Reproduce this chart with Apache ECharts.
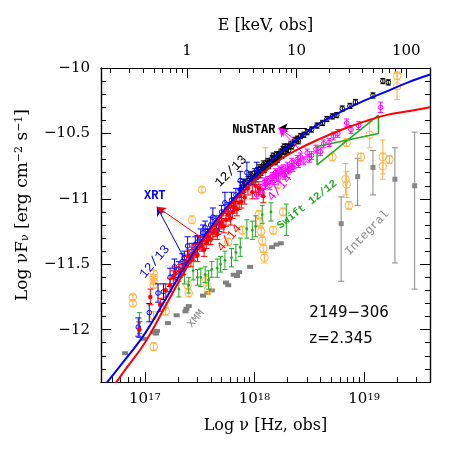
<!DOCTYPE html>
<html>
<head>
<meta charset="utf-8">
<script src="https://cdn.jsdelivr.net/npm/echarts@6.0.0/dist/echarts.min.js"></script>
<style>
  html, body { margin: 0; padding: 0; background: #fff; }
  #chart { width: 469px; height: 469px; }
</style>
</head>
<body>
<div id="chart"></div>
<script>
// log10 of 1 keV in Hz, used for the top energy axis
const LOG_KEV_HZ = Math.log10(2.418e17);

// axis ranges (log nu, log nuFnu)
const nuRange = [16.6, 19.6];
const fluxRange = [-12.4, -10];

// tick values
const nuMajor = [17, 18, 19];
const keVMajor = [1, 10, 100];
const fluxMajor = [-12, -11.5, -11, -10.5, -10];

// NuSTAR 12/13 (black)  [log nu, log nuFnu, err]
const nustar1213 = [
  [17.88,-10.93,0.03],[17.91,-10.88,0.03],[17.94,-10.86,0.03],[17.96,-10.83,0.03],[17.98,-10.85,0.03],
  [18.00,-10.80,0.03],[18.01,-10.84,0.03],[18.02,-10.82,0.03],[18.03,-10.79,0.03],[18.04,-10.77,0.03],
  [18.05,-10.81,0.03],[18.06,-10.79,0.03],[18.07,-10.76,0.02],[18.08,-10.74,0.03],[18.09,-10.78,0.02],
  [18.10,-10.76,0.02],[18.11,-10.73,0.02],[18.12,-10.71,0.02],[18.13,-10.75,0.02],[18.14,-10.73,0.02],
  [18.15,-10.72,0.02],[18.16,-10.69,0.02],[18.17,-10.67,0.02],[18.18,-10.70,0.02],[18.19,-10.72,0.02],
  [18.20,-10.66,0.02],[18.21,-10.70,0.02],[18.22,-10.68,0.02],[18.23,-10.66,0.02],[18.24,-10.64,0.02],
  [18.25,-10.67,0.02],[18.26,-10.62,0.02],[18.27,-10.60,0.02],[18.28,-10.64,0.02],[18.29,-10.62,0.02],
  [18.30,-10.60,0.02],[18.31,-10.63,0.02],[18.33,-10.58,0.02],[18.34,-10.60,0.02],[18.36,-10.57,0.02],
  [18.37,-10.55,0.02],[18.39,-10.54,0.02],[18.40,-10.56,0.02],[18.42,-10.52,0.02],[18.45,-10.51,0.02],
  [18.48,-10.49,0.02],[18.52,-10.47,0.02],[18.57,-10.44,0.02],[18.62,-10.42,0.02],[18.66,-10.39,0.02],
  [18.71,-10.37,0.02],[18.75,-10.36,0.02],[18.80,-10.31,0.02],[18.87,-10.29,0.02],[18.92,-10.26,0.02],
  [19.08,-10.21,0.02],[19.17,-10.10,0.02],[19.22,-10.11,0.02]
];

// NuSTAR 4/14 (magenta)
const nustar414 = [
  [18.02,-10.97,0.03],[18.05,-10.92,0.03],[18.07,-10.95,0.03],[18.09,-10.87,0.03],[18.10,-10.89,0.03],
  [18.12,-10.86,0.03],[18.14,-10.90,0.03],[18.15,-10.85,0.03],[18.16,-10.83,0.03],[18.18,-10.86,0.03],
  [18.19,-10.80,0.03],[18.20,-10.81,0.03],[18.22,-10.84,0.03],[18.23,-10.78,0.03],[18.24,-10.79,0.03],
  [18.26,-10.77,0.03],[18.27,-10.82,0.03],[18.28,-10.80,0.03],[18.30,-10.75,0.03],[18.31,-10.78,0.03],
  [18.32,-10.77,0.03],[18.34,-10.72,0.03],[18.35,-10.76,0.03],[18.36,-10.74,0.03],[18.39,-10.70,0.03],
  [18.40,-10.73,0.03],[18.42,-10.68,0.03],[18.45,-10.71,0.03],[18.48,-10.65,0.03],[18.50,-10.69,0.03],
  [18.52,-10.67,0.03],[18.56,-10.62,0.03],[18.60,-10.64,0.03],[18.63,-10.58,0.03],[18.68,-10.57,0.03],
  [18.72,-10.52,0.03],[18.76,-10.50,0.03],[18.84,-10.42,0.03],[18.88,-10.47,0.03],[18.95,-10.44,0.03],
  [19.15,-10.30,0.04]
];

// Swift XRT 12/13 (blue)
const xrt1213 = [
  [16.94,-11.98,0.07],[17.04,-11.87,0.07],[17.12,-11.72,0.07],[17.17,-11.71,0.06],[17.23,-11.60,0.07],
  [17.27,-11.52,0.06],[17.31,-11.54,0.06],[17.34,-11.48,0.06],[17.36,-11.45,0.05],[17.39,-11.36,0.07],
  [17.43,-11.40,0.06],[17.46,-11.35,0.06],[17.48,-11.33,0.05],[17.51,-11.30,0.07],[17.53,-11.26,0.06],
  [17.55,-11.22,0.05],[17.57,-11.29,0.06],[17.60,-11.20,0.06],[17.62,-11.14,0.07],[17.65,-11.18,0.05],
  [17.67,-11.21,0.06],[17.70,-11.10,0.05],[17.73,-11.03,0.08],[17.76,-11.08,0.05],[17.79,-11.01,0.06],
  [17.81,-11.04,0.05],[17.83,-10.97,0.05],[17.87,-10.93,0.06],[17.87,-10.86,0.07],[17.90,-10.90,0.05],
  [17.93,-10.80,0.08],[17.97,-10.84,0.05],[18.02,-10.78,0.06]
];

// Swift XRT 4/14 (red)
const xrt414 = [
  [16.95,-12.00,0.06],[17.05,-11.75,0.06],[17.14,-11.81,0.05],[17.19,-11.70,0.05],[17.23,-11.66,0.05],
  [17.26,-11.60,0.05],[17.28,-11.57,0.05],[17.32,-11.55,0.05],[17.35,-11.53,0.05],[17.38,-11.48,0.04],
  [17.40,-11.44,0.05],[17.42,-11.47,0.05],[17.44,-11.42,0.05],[17.46,-11.40,0.05],[17.48,-11.43,0.05],
  [17.50,-11.34,0.05],[17.52,-11.36,0.04],[17.54,-11.39,0.05],[17.56,-11.33,0.05],[17.58,-11.30,0.05],
  [17.60,-11.31,0.04],[17.62,-11.26,0.05],[17.64,-11.24,0.05],[17.66,-11.27,0.04],[17.68,-11.20,0.05],
  [17.70,-11.18,0.05],[17.72,-11.21,0.05],[17.74,-11.16,0.05],[17.76,-11.12,0.05],[17.78,-11.15,0.05],
  [17.80,-11.10,0.05],[17.82,-11.06,0.05],[17.84,-11.08,0.05],[17.86,-11.03,0.05],[17.88,-11.02,0.05],
  [17.91,-10.99,0.05],[17.94,-10.92,0.05],[17.98,-10.95,0.05],[18.01,-10.90,0.05],[18.04,-10.92,0.05],
  [18.08,-10.98,0.05]
];

// Swift XRT 12/12 (green)
const swift1212 = [
  [16.95,-11.95,0.08],[17.31,-11.69,0.06],[17.36,-11.58,0.07],[17.40,-11.66,0.06],[17.44,-11.55,0.07],
  [17.48,-11.60,0.06],[17.51,-11.60,0.07],[17.55,-11.58,0.06],[17.58,-11.62,0.07],[17.61,-11.54,0.06],
  [17.66,-11.53,0.07],[17.69,-11.50,0.06],[17.73,-11.47,0.07],[17.79,-11.45,0.07],[17.83,-11.41,0.06],
  [17.87,-11.37,0.07],[17.93,-11.23,0.07],[17.98,-11.24,0.07],[18.01,-11.21,0.08],[18.07,-11.12,0.07],
  [18.15,-11.10,0.07],[18.29,-11.16,0.12]
];

// BAT bowtie (green), corners [log nu, log nuFnu]
const bowtie = [[18.57,-10.60],[19.13,-10.50],[19.13,-10.36],[18.57,-10.74],[18.57,-10.60]];

// archival data (orange open circles)
const archival = [
  [16.89,-11.75,0.02],[16.89,-11.80,0.02],[17.08,-11.57,0.02],[17.08,-11.60,0.02],[17.08,-11.63,0.02],
  [17.08,-11.66,0.02],[17.08,-11.89,0.03],[17.08,-12.13,0.03],[17.17,-11.82,0.03],[17.19,-11.86,0.03],
  [17.39,-11.66,0.03],[17.40,-11.72,0.03],[17.43,-11.16,0.03],[17.52,-10.93,0.02],[17.56,-11.62,0.04],
  [17.58,-11.69,0.04],[17.76,-11.33,0.03],[17.89,-11.24,0.03],[18.04,-11.12,0.03],[18.05,-11.18,0.03],
  [18.06,-11.25,0.03],[18.07,-11.32,0.03],[18.08,-11.38,0.03],[18.09,-11.45,0.04],[18.10,-10.73,0.12],
  [18.17,-11.24,0.03],[18.21,-10.89,0.03],[18.26,-11.10,0.03],[18.71,-10.68,0.03],[18.83,-10.85,0.12],
  [18.84,-10.89,0.10],[18.86,-11.05,0.03],[18.84,-10.57,0.03],[18.97,-10.68,0.03],[19.05,-10.51,0.10],
  [19.17,-10.68,0.13],[19.17,-10.75,0.10],[19.23,-10.70,0.03],[19.30,-10.06,0.03],[19.30,-10.14,0.10]
];

// XMM (grey squares)
const xmm = [
  [16.82,-12.18],[16.99,-12.07],[17.08,-12.02],[17.10,-12.03],[17.11,-12.01],[17.21,-11.95],
  [17.29,-11.89],[17.37,-11.86],[17.38,-11.84],[17.40,-11.82],[17.53,-11.74],[17.57,-11.72],
  [17.61,-11.70],[17.74,-11.64],[17.76,-11.66],[17.81,-11.58],[17.84,-11.59],[17.86,-11.56],
  [17.96,-11.52],[18.16,-11.37],[18.20,-11.35],[18.24,-11.34]
];

// INTEGRAL (grey, asymmetric errors)  [log nu, log nuFnu, low, high]
const integral = [
  [18.79,-11.19,-11.63,-10.985],[18.94,-10.83,-11.05,-10.69],[19.08,-10.76,-10.97,-10.63],
  [19.28,-10.85,-11.49,-10.61],[19.46,-10.90,-11.69,-10.49]
];

// models
const modelBlue = [
  [16.60,-12.46],[16.80,-12.25],[17.00,-12.03],[17.20,-11.75],[17.40,-11.47],[17.60,-11.22],
  [17.80,-11.01],[18.00,-10.83],[18.20,-10.67],[18.40,-10.54],[18.60,-10.42],[18.80,-10.33],
  [19.00,-10.25],[19.20,-10.18],[19.40,-10.11],[19.60,-10.05]
];
const modelRed = [
  [16.70,-12.45],[16.80,-12.33],[17.00,-12.10],[17.20,-11.80],[17.40,-11.50],[17.60,-11.24],
  [17.80,-11.03],[18.00,-10.86],[18.20,-10.72],[18.40,-10.62],[18.60,-10.54],[18.80,-10.47],
  [19.00,-10.41],[19.20,-10.36],[19.40,-10.33],[19.60,-10.30]
];

// text annotations, positions in data coordinates
const labels = [
  { text: 'XRT', at: [17.09, -10.977], rot: 0, color: '#0000ff', font: 'bold 12px "Liberation Mono"' },
  { text: '12/13', at: [17.09, -11.48], rot: 50, color: '#0000ff', font: '13px "Liberation Mono"' },
  { text: '4/14', at: [17.77, -11.30], rot: 50, color: '#ff0000', font: '13px "Liberation Mono"' },
  { text: '12/13', at: [17.785, -10.79], rot: 45, color: '#000000', font: '13px "Liberation Mono"' },
  { text: '4/14', at: [18.23, -10.915], rot: 50, color: '#ff00ff', font: '13px "Liberation Mono"' },
  { text: 'Swift 12/12', at: [18.48, -11.045], rot: 38, color: '#22aa22', font: 'bold 11px "Liberation Mono"' },
  { text: 'Integral', at: [19.025, -11.26], rot: 46, color: '#888888', font: '12px "Liberation Mono"' },
  { text: 'XMM', at: [17.465, -11.915], rot: 50, color: '#888888', font: '11px "Liberation Mono"' },
  { text: 'NuSTAR', at: [18.19, -10.473], rot: 0, color: '#000000', font: 'bold 12px "Liberation Mono"', align: 'right' },
  { text: '2149\u2212306', at: [18.50, -11.87], rot: 0, color: '#000000', font: '15px "DejaVu Sans"', align: 'left' },
  { text: 'z=2.345', at: [18.50, -12.07], rot: 0, color: '#000000', font: '15px "DejaVu Sans"', align: 'left' }
];

// arrows from data to the labels [from, to, colour]
const arrows = [
  [[17.356, -11.450], [17.11, -11.061], '#0000ff'],
  [[17.520, -11.298], [17.11, -11.061], '#ff0000'],
  [[18.477, -10.458], [18.221, -10.458], '#000000'],
  [[18.431, -10.641], [18.221, -10.458], '#ff00ff'],
  [[18.376, -10.550], [18.221, -10.458], '#ff00ff']
];

// minor ticks
const nuMinor = [];
for (let d = 16; d <= 19; d++) for (let k = 2; k <= 9; k++) {
  const v = d + Math.log10(k);
  if (v > nuRange[0] && v < nuRange[1]) nuMinor.push(v);
}
const keVMinor = [];
for (let d = -1; d <= 2; d++) for (let k = 2; k <= 9; k++) {
  const v = d + Math.log10(k) + LOG_KEV_HZ;
  if (v > nuRange[0] && v < nuRange[1]) keVMinor.push(v);
}
const fluxMinor = [];
for (let i = -124; i <= -100; i++) if (i % 5 !== 0) fluxMinor.push(i / 10);

function toBars(arr) {
  return arr.map(d => d.length > 3 ? d : [d[0], d[1], d[1] - d[2], d[1] + d[2]]);
}

function errSeries(name, arr, color, marker, z) {
  const data = toBars(arr);
  return {
    type: 'custom', name: name, data: data, z: z || 3, clip: true,
    encode: { x: 0, y: 1 },
    renderItem: function (params, api) {
      const p = api.coord([api.value(0), api.value(1)]);
      const lo = api.coord([api.value(0), api.value(2)]);
      const hi = api.coord([api.value(0), api.value(3)]);
      const c = marker.cap;
      const ls = { stroke: color, lineWidth: marker.lw || 1 };
      const kids = [];
      if (c > 0) {
        kids.push(
          { type: 'line', shape: { x1: p[0], y1: lo[1], x2: p[0], y2: hi[1] }, style: ls },
          { type: 'line', shape: { x1: p[0] - c, y1: lo[1], x2: p[0] + c, y2: lo[1] }, style: ls },
          { type: 'line', shape: { x1: p[0] - c, y1: hi[1], x2: p[0] + c, y2: hi[1] }, style: ls }
        );
      }
      if (marker.type === 'rect') {
        kids.push({ type: 'rect', shape: { x: p[0] - marker.w / 2, y: p[1] - marker.h / 2, width: marker.w, height: marker.h }, style: { fill: color } });
      } else {
        kids.push({ type: 'circle', shape: { cx: p[0], cy: p[1], r: marker.r },
          style: marker.fill ? { fill: color } : { fill: 'rgba(0,0,0,0)', stroke: color, lineWidth: 1 } });
      }
      return { type: 'group', children: kids };
    }
  };
}

const chart = echarts.init(document.getElementById('chart'));

const serif = '"DejaVu Serif", serif';
const tickFont = { fontFamily: serif, fontSize: 15, color: '#000' };

function xAxisBase(pos) {
  return {
    type: 'value', position: pos, min: nuRange[0], max: nuRange[1],
    axisLine: { show: true, lineStyle: { color: '#000', width: 1.2 } },
    splitLine: { show: false }
  };
}
function yAxisBase(pos) {
  return {
    type: 'value', position: pos, min: fluxRange[0], max: fluxRange[1],
    axisLine: { show: true, lineStyle: { color: '#000', width: 1.2 } },
    splitLine: { show: false }
  };
}

chart.setOption({
  animation: false,
  backgroundColor: '#fff',
  grid: { left: 101, right: 39, top: 68, bottom: 87 },
  xAxis: [
    Object.assign(xAxisBase('bottom'), {
      axisTick: { inside: true, length: 10, customValues: nuMajor, lineStyle: { color: '#000' } },
      axisLabel: Object.assign({ customValues: nuMajor, margin: 10,
        formatter: v => '{b|10}{s|' + Math.round(v) + '}',
        rich: { b: { fontFamily: serif, fontSize: 15, color: '#000' },
                s: { fontFamily: serif, fontSize: 10, color: '#000', verticalAlign: 'top' } } }, tickFont),
      name: 'Log \u03bd [Hz, obs]', nameLocation: 'middle', nameGap: 36,
      nameTextStyle: { fontFamily: serif, fontSize: 16, color: '#000' }
    }),
    Object.assign(xAxisBase('bottom'), {
      axisTick: { inside: true, length: 5, customValues: nuMinor, lineStyle: { color: '#000' } },
      axisLabel: { show: false }
    }),
    Object.assign(xAxisBase('top'), {
      axisTick: { inside: true, length: 10, customValues: keVMajor.map(e => Math.log10(e) + LOG_KEV_HZ), lineStyle: { color: '#000' } },
      axisLabel: Object.assign({ customValues: keVMajor.map(e => Math.log10(e) + LOG_KEV_HZ), margin: 9,
        formatter: v => String(Math.round(Math.pow(10, v - LOG_KEV_HZ))) }, tickFont),
      name: 'E [keV, obs]', nameLocation: 'middle', nameGap: 34,
      nameTextStyle: { fontFamily: serif, fontSize: 16, color: '#000' }
    }),
    Object.assign(xAxisBase('top'), {
      axisTick: { inside: true, length: 5, customValues: keVMinor, lineStyle: { color: '#000' } },
      axisLabel: { show: false }
    })
  ],
  yAxis: [
    Object.assign(yAxisBase('left'), {
      axisTick: { inside: true, length: 10, customValues: fluxMajor, lineStyle: { color: '#000' } },
      axisLabel: Object.assign({ customValues: fluxMajor, margin: 11,
        formatter: v => String(v).replace('-', '\u2212') }, tickFont),
      name: 'Log \u03bdF{sub|\u03bd} [erg cm{sup|\u22122} s{sup|\u22121}]',
      nameLocation: 'middle', nameGap: 70, nameRotate: 90,
      nameTextStyle: {
        fontFamily: serif, fontSize: 17, color: '#000', padding: [0, 0, 0, 40],
        rich: {
          sub: { fontFamily: serif, fontSize: 11, color: '#000', verticalAlign: 'bottom' },
          sup: { fontFamily: serif, fontSize: 11, color: '#000', verticalAlign: 'top' }
        }
      }
    }),
    Object.assign(yAxisBase('left'), {
      axisTick: { inside: true, length: 5, customValues: fluxMinor, lineStyle: { color: '#000' } },
      axisLabel: { show: false }
    }),
    Object.assign(yAxisBase('right'), {
      axisTick: { inside: true, length: 10, customValues: fluxMajor, lineStyle: { color: '#000' } },
      axisLabel: { show: false }
    }),
    Object.assign(yAxisBase('right'), {
      axisTick: { inside: true, length: 5, customValues: fluxMinor, lineStyle: { color: '#000' } },
      axisLabel: { show: false }
    })
  ],
  series: [
    errSeries('XMM', xmm.map(d => [d[0], d[1], 0]), '#808080', { type: 'rect', w: 6, h: 4, cap: 0 }, 2),
    errSeries('Integral', integral, '#888888', { type: 'rect', w: 5, h: 5, cap: 3 }, 2),
    errSeries('archival', archival, '#ffb347', { r: 3.8, cap: 3 }, 2),
    errSeries('Swift 12/12', swift1212, '#22aa22', { r: 1.4, fill: true, cap: 2.5 }, 3),
    {
      type: 'line', name: 'bowtie', data: bowtie, showSymbol: false, z: 3,
      lineStyle: { color: '#22aa22', width: 1.5 }, silent: true
    },
    errSeries('NuSTAR 4/14', nustar414, '#ff00ff', { r: 2.3, cap: 2.5 }, 4),
    errSeries('NuSTAR 12/13', nustar1213, '#000000', { r: 2.3, cap: 2.5 }, 4),
    errSeries('XRT 12/13', xrt1213, '#0000ff', { r: 2.3, cap: 3 }, 4),
    errSeries('XRT 4/14', xrt414, '#ff0000', { r: 2.3, fill: true, cap: 3 }, 5),
    {
      type: 'line', name: 'model 12/13', data: modelBlue, smooth: 0.4, showSymbol: false, z: 6,
      lineStyle: { color: '#0000ff', width: 2 }, silent: true
    },
    {
      type: 'line', name: 'model 4/14', data: modelRed, smooth: 0.4, showSymbol: false, z: 6,
      lineStyle: { color: '#ff0000', width: 2 }, silent: true
    },
    {
      type: 'custom', name: 'labels', z: 7, silent: true,
      data: labels.map(l => l.at),
      renderItem: function (params, api) {
        const l = labels[params.dataIndex];
        const p = api.coord(l.at);
        return {
          type: 'text', x: p[0], y: p[1], rotation: l.rot * Math.PI / 180,
          style: { text: l.text, fill: l.color, font: l.font, align: l.align || 'center', verticalAlign: 'middle' }
        };
      },
      markLine: {
        silent: true, symbol: ['none', 'arrow'], symbolSize: [7, 9],
        label: { show: false },
        data: arrows.map(a => [
          { coord: a[0], lineStyle: { color: a[2], width: 1, type: 'solid' } },
          { coord: a[1], lineStyle: { color: a[2], width: 1, type: 'solid' } }
        ])
      }
    }
  ]
});
</script>
</body>
</html>
